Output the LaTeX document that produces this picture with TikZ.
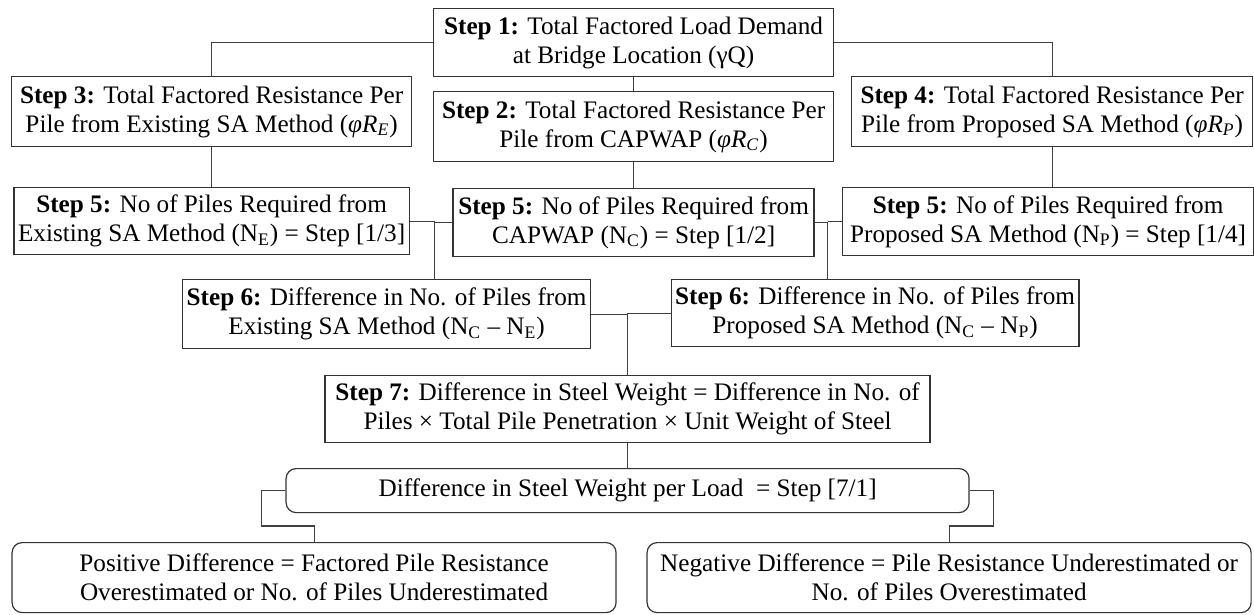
\documentclass[tikz,border=0pt]{standalone}
\usepackage{fontspec}
\setmainfont{Liberation Serif}
\usetikzlibrary{positioning}

\begin{document}
\begin{tikzpicture}[node distance=35pt, auto]
    \tikzstyle{block} = [rectangle, draw=black!80, line width=0.6pt, align=center, inner sep=2pt, minimum width=200pt, minimum height=34pt, font=\fontsize{12.6}{14.5}\selectfont]
    \tikzstyle{outcome} = [block, rounded corners=5pt]
    \tikzstyle{line} = [draw=black!75, line width=0.55pt]

    \node [block] (step1) {\textbf{Step 1:} Total Factored Load Demand\\at Bridge Location (γQ)};
    \useasboundingbox ([shift={(-216.5pt,4pt)}]step1.north west) rectangle ([shift={(410.5pt,-303.5pt)}]step1.north west);
    \node [block, below of=step1, xshift=-211pt, node distance=34.5pt, minimum height=35pt] (step3) {\textbf{Step 3:} Total Factored Resistance Per\\Pile from Existing SA Method (\textit{φR}\textsubscript{\textit{E}})};
    \node [block, below of=step1, node distance=42pt, minimum height=35pt] (step2) {\textbf{Step 2:} Total Factored Resistance Per\\Pile from CAPWAP (\textit{φR}\textsubscript{\textit{C}})};
    \node [block, below of=step1, xshift=209.25pt, node distance=34.5pt, minimum height=35pt, minimum width=200.5pt] (step4) {\textbf{Step 4:} Total Factored Resistance Per\\Pile from Proposed SA Method (\textit{φR}\textsubscript{\textit{P}})};
    \node [block, below of=step3, node distance=54.75pt, minimum width=197.5pt, minimum height=33.5pt] (step5l) {\textbf{Step 5:} No of Piles Required from\\Existing SA Method (N\textsubscript{E}) = Step [1/3]};
    \node [block, below of=step2, node distance=48pt, minimum width=180.5pt] (step5c) {\textbf{Step 5:} No of Piles Required from\\CAPWAP (N\textsubscript{C}) = Step [1/2]};
    \node [block, below of=step4, xshift=-2pt, node distance=55pt, minimum width=205.5pt] (step5r) {\textbf{Step 5:} No of Piles Required from\\Proposed SA Method (N\textsubscript{P}) = Step [1/4]};
    \node [block, below of=step5l, xshift=87.5pt, node distance=46.5pt, minimum width=199.5pt, minimum height=34.5pt] (step6l) {\textbf{Step 6:} Difference in No. of Piles from\\Existing SA Method (N\textsubscript{C} – N\textsubscript{E})};
    \node [block, below of=step5r, xshift=-86.5pt, node distance=45.75pt, minimum width=199.5pt, minimum height=33.5pt] (step6r) {\textbf{Step 6:} Difference in No. of Piles from\\Proposed SA Method (N\textsubscript{C} – N\textsubscript{P})};
    \node [block, below of=step5c, xshift=-3pt, node distance=93.25pt, minimum width=302.5pt, minimum height=33.5pt] (step7) {\textbf{Step 7:} Difference in Steel Weight = Difference in No. of\\Piles × Total Pile Penetration × Unit Weight of Steel};
    \node [outcome, below of=step7, node distance=40.75pt, minimum width=341.5pt, minimum height=22pt] (diff) {Difference in Steel Weight per Load ~= Step [7/1]};
    \node [outcome, below of=diff, xshift=-156.75pt, node distance=43.5pt, minimum width=302pt, minimum height=35pt] (pos) {Positive Difference = Factored Pile Resistance\\Overestimated or No. of Piles Underestimated};
    \node [outcome, below of=diff, xshift=160.75pt, node distance=43.5pt, minimum width=302pt, minimum height=35pt] (neg) {Negative Difference = Pile Resistance Underestimated or\\No. of Piles Overestimated};

    \coordinate (jleft) at ([xshift=23.75pt]step6l.north);
    \coordinate (jright) at ([xshift=-23.75pt]step6r.north);

    \path [line] (step1.west) -| (step3.north);
    \path [line] (step1.east) -| (step4.north);
    \path [line] (step1.south) -- (step2.north);
    \path [line] (step3.south) -- (step3.south |- step5l.north);
    \path [line] (step2.south) -- (step2.south |- step5c.north);
    \path [line] (step4.south) -- (step4.south |- step5r.north);
    \path [line] (step5l.east) -| (jleft);
    \path [line] (step5c.west) -- (step5c.west -| jleft);
    \path [line] (step5c.east) -| (jright);
    \path [line] (step5r.west) -- (step5r.west -| jright);
    \path [line] (step6l.east) -| (step7.north);
    \path [line] (step6r.west) -| (step7.north);
    \path [line] (step7.south) -- (diff.north);
    \path [line] (diff.west) -- ++(-12pt,0) |- ([yshift=8pt]pos.north) -- (pos.north);
    \path [line] (diff.east) -- ++(12pt,0) |- ([yshift=8pt]neg.north) -- (neg.north);
\end{tikzpicture}
\end{document}
